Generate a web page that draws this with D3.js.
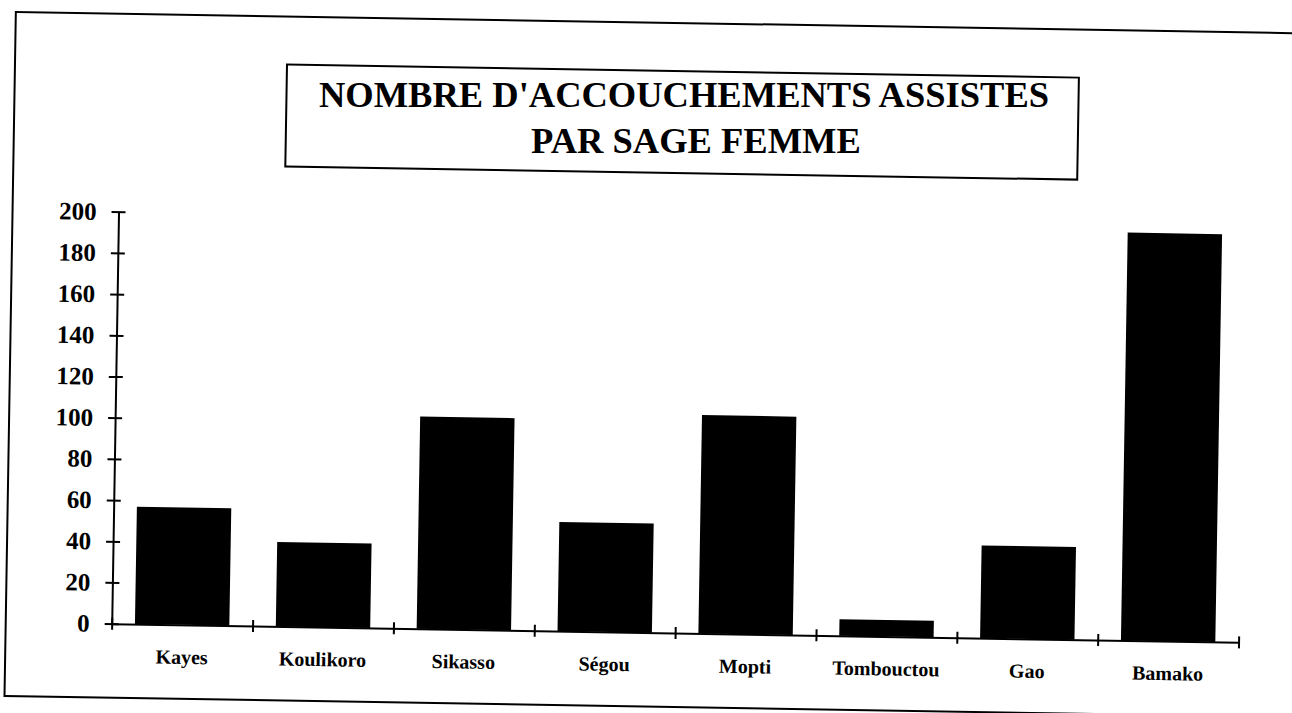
<!DOCTYPE html>
<html>
<head>
<meta charset="utf-8">
<script src="https://cdn.jsdelivr.net/npm/d3@7/dist/d3.min.js"></script>
<style>
  html, body { margin: 0; padding: 0; background: #fff; }
  svg { display: block; }
  text { font-family: "Liberation Serif", "Times New Roman", serif; font-weight: bold; fill: #000; }
</style>
</head>
<body>
<svg id="chart" width="1292" height="713"></svg>
<script>
const categories = ["Kayes", "Koulikoro", "Sikasso", "Ségou", "Mopti", "Tombouctou", "Gao", "Bamako"];
const values = [57, 41, 103, 53, 106, 8, 45, 198];
const yTicks = [0, 20, 40, 60, 80, 100, 120, 140, 160, 180, 200];
const titleLines = ["NOMBRE D'ACCOUCHEMENTS ASSISTES", "PAR SAGE FEMME"];

(function () {
const svg = d3.select("#chart");
svg.append("rect").attr("width", 1292).attr("height", 713).attr("fill", "#fff");

// scanned page is slightly tilted
const g = svg.append("g").attr("transform", "rotate(0.95, 676, 430)");

// outer frame
g.append("rect")
  .attr("x", 9).attr("y", 23).attr("width", 1400).attr("height", 684)
  .attr("fill", "none").attr("stroke", "#000").attr("stroke-width", 2);

// title box
g.append("rect")
  .attr("x", 281).attr("y", 71).attr("width", 792).attr("height", 102)
  .attr("fill", "none").attr("stroke", "#000").attr("stroke-width", 2);

const pLeft = 115, pRight = 1242, pBottom = 633, pTop = 221;

const x = d3.scaleBand().domain(categories).range([pLeft, pRight])
  .paddingInner(0.33).paddingOuter(0.165);
const y = d3.scaleLinear().domain([0, 200]).range([pBottom, pTop]);

// bars
g.selectAll("rect.bar").data(values).join("rect")
  .attr("class", "bar")
  .attr("x", (d, i) => x(categories[i]))
  .attr("width", x.bandwidth())
  .attr("y", d => y(d))
  .attr("height", d => y(0) - y(d))
  .attr("fill", "#000");

// y axis
const yAxis = g.append("g").attr("transform", `translate(${pLeft},0)`)
  .call(d3.axisLeft(y).tickValues(yTicks).tickSize(7).tickSizeOuter(0).tickPadding(15));
yAxis.select(".domain").attr("stroke", "#000").attr("stroke-width", 2);
yAxis.selectAll(".tick line").attr("x1", 7).attr("stroke", "#000").attr("stroke-width", 2);
yAxis.selectAll(".tick text").style("font-size", "25px").attr("fill", "#000");

// x axis: ticks at category boundaries
const xb = d3.scaleLinear().domain([0, categories.length]).range([pLeft, pRight]);
const xAxis = g.append("g").attr("transform", `translate(0,${pBottom})`)
  .call(d3.axisBottom(xb).ticks(categories.length).tickSize(6).tickSizeOuter(0).tickFormat(""));
xAxis.select(".domain").attr("stroke", "#000").attr("stroke-width", 2);
xAxis.selectAll(".tick line").attr("y1", -6).attr("stroke", "#000").attr("stroke-width", 2);

// category labels
const xLab = g.append("g").attr("transform", `translate(0,${pBottom})`)
  .call(d3.axisBottom(x).tickSize(0).tickPadding(0));
xLab.select(".domain").remove();
xLab.selectAll(".tick text").attr("y", 39).attr("dy", 0)
  .style("font-size", "20px").attr("fill", "#000");

// title text
const titlePos = [{cx: 684, by: 107}, {cx: 696, by: 153}];
svg.selectAll("text.title").data(titleLines).join("text")
  .attr("class", "title")
  .attr("x", (d, i) => titlePos[i].cx)
  .attr("y", (d, i) => titlePos[i].by)
  .attr("text-anchor", "middle")
  .style("font-size", "36.5px")
  .text(d => d);
})();
</script>
</body>
</html>
